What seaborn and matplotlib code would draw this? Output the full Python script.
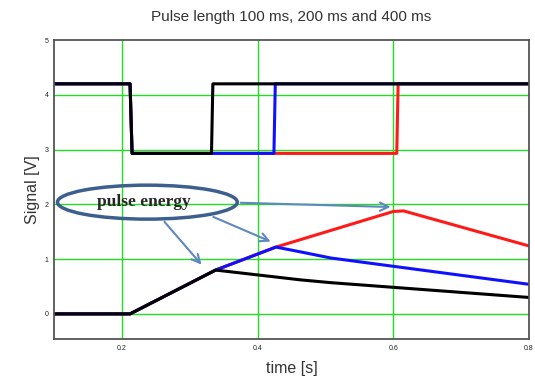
import numpy as np
import pandas as pd
import matplotlib.pyplot as plt
import seaborn as sns
from matplotlib.patches import Ellipse

# Werte
pulse_start = 0.212
pulse_end = {"400 ms": 0.605, "200 ms": 0.424, "100 ms": 0.332}
sig_high = 4.2
sig_low = 2.93

energy_t = {
    "400 ms": [0.1, 0.212, 0.338, 0.427, 0.60, 0.615, 0.8],
    "200 ms": [0.1, 0.212, 0.338, 0.427, 0.464, 0.508, 0.8],
    "100 ms": [0.1, 0.212, 0.338, 0.464, 0.508, 0.8],
}
energy_v = {
    "400 ms": [0.0, 0.0, 0.80, 1.22, 1.87, 1.88, 1.24],
    "200 ms": [0.0, 0.0, 0.80, 1.22, 1.13, 1.02, 0.54],
    "100 ms": [0.0, 0.0, 0.80, 0.62, 0.57, 0.30],
}
colors = {"400 ms": "#ff1a1a", "200 ms": "#1010ff", "100 ms": "#000000"}

rows = []
for name, t_end in pulse_end.items():
    ts = [0.1, pulse_start, pulse_start + 0.003, t_end, t_end + 0.002, 0.8]
    vs = [sig_high, sig_high, sig_low, sig_low, sig_high, sig_high]
    for i, (t, v) in enumerate(zip(ts, vs)):
        rows.append({"t": t, "v": v, "puls": name, "trace": name + " sig", "i": i})
    for i, (t, v) in enumerate(zip(energy_t[name], energy_v[name])):
        rows.append({"t": t, "v": v, "puls": name, "trace": name + " en", "i": i})
df = pd.DataFrame(rows)

sns.set_style("white")
plt.rcParams['font.family'] = ['Liberation Sans', 'DejaVu Sans']

fig = plt.figure(figsize=(5.35, 3.81), dpi=100)
ax = fig.add_axes([0.101, 0.110, 0.888, 0.785])

for x in [0.2, 0.4, 0.6]:
    ax.axvline(x, color="#22dd22", lw=1, zorder=0)
for y in [0, 1, 2, 3, 4]:
    ax.axhline(y, color="#22dd22", lw=1, zorder=0)

sns.lineplot(data=df, x="t", y="v", hue="puls", units="trace", estimator=None,
             sort=False, palette=colors, hue_order=["400 ms", "200 ms", "100 ms"],
             lw=2.2, legend=False, ax=ax)

ax.set_xlim(0.1, 0.8)
ax.set_ylim(-0.46, 5)
ax.set_xticks([0.2, 0.4, 0.6, 0.8])
ax.set_xticklabels(["0.2", "0.4", "0.6", "0.8"])
ax.set_yticks([0, 1, 2, 3, 4, 5])
ax.tick_params(labelsize=5, length=0, pad=4, colors="#222222")
for s in ax.spines.values():
    s.set_color("#555555")
    s.set_linewidth(1.3)

ax.set_title("Pulse length 100 ms, 200 ms and 400 ms", fontsize=11, color="#333333", pad=14)
ax.set_xlabel("time [s]", fontsize=11.5, color="#333333", labelpad=7)
ax.set_ylabel("Signal [V]", fontsize=11.5, color="#333333", labelpad=3)

# Ellipse mit Pfeilen
ell = Ellipse((0.2375, 2.04), 0.265, 0.62, fill=False, edgecolor="#3d5f8e", lw=2.5, zorder=5)
ax.add_patch(ell)
ax.text(0.232, 2.04, "pulse energy", ha="center", va="center", fontsize=12.5,
        fontweight="bold", family=["Liberation Serif", "DejaVu Serif"], zorder=6)
arrows = [((0.26, 1.72), (0.32, 0.86)),
          ((0.331, 1.79), (0.423, 1.30)),
          ((0.371, 2.03), (0.600, 1.95))]
for start, tip in arrows:
    ax.annotate("", xy=tip, xytext=start,
                arrowprops=dict(arrowstyle="->,head_length=0.6,head_width=0.3",
                                color="#6088c0", lw=1.5), zorder=4)

fig.savefig("out.png", dpi=100)
